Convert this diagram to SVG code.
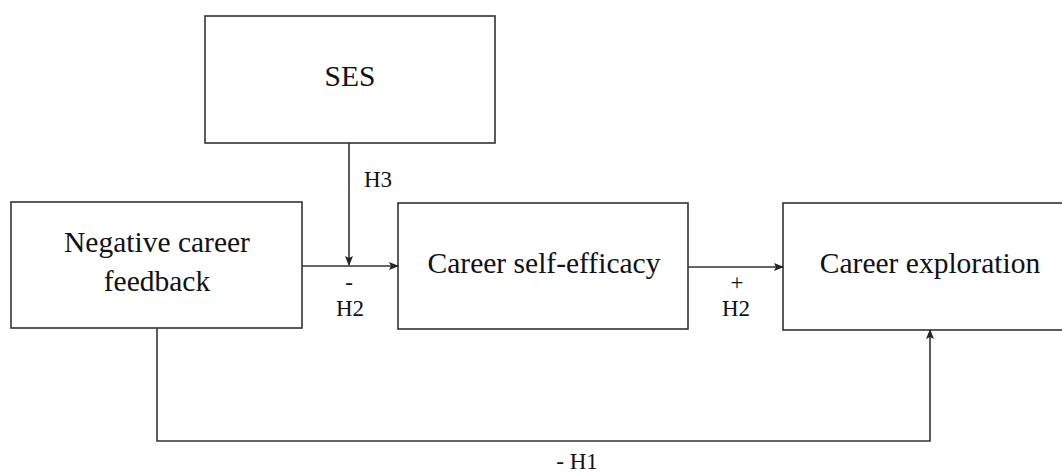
<svg xmlns="http://www.w3.org/2000/svg" width="1062" height="473" viewBox="0 0 1062 473">
<style>
.box{fill:#fff;stroke:#333;stroke-width:1.6}
.t{font-family:"Liberation Serif","Times New Roman",serif;font-size:29.5px;fill:#111;text-anchor:middle}
.l{font-family:"Liberation Serif","Times New Roman",serif;font-size:23px;fill:#111;text-anchor:middle}
.c{fill:none;stroke:#333;stroke-width:1.6}
</style>
<defs>
<marker id="ah" markerWidth="10" markerHeight="8" refX="9" refY="4" orient="auto" markerUnits="userSpaceOnUse">
<path d="M0,0 L10,4 L0,8 L2,4 Z" fill="#222"/>
</marker>
</defs>
<rect width="1062" height="473" fill="#fff"/>
<g id="ses"><rect class="box" x="205" y="16" width="290" height="127"/><text class="t" x="350" y="86">SES</text></g>
<g id="ncf"><rect class="box" x="11" y="202" width="291" height="126"/><text class="t" x="157" y="252">Negative career</text><text class="t" x="157" y="291">feedback</text></g>
<g id="cse"><rect class="box" x="398" y="203" width="290" height="126"/><text class="t" x="544" y="273">Career self-efficacy</text></g>
<g id="ce"><rect class="box" x="783" y="203" width="290" height="127"/><text class="t" x="930" y="273">Career exploration</text></g>
<g id="connectors">
<line class="c" x1="349" y1="143" x2="349" y2="265" marker-end="url(#ah)"/>
<line class="c" x1="302" y1="266" x2="398" y2="266" marker-end="url(#ah)"/>
<line class="c" x1="688" y1="267" x2="783" y2="267" marker-end="url(#ah)"/>
<polyline class="c" points="157,328 157,441 930,441 930,330" marker-end="url(#ah)"/>
<text class="l" x="378" y="187">H3</text>
<text class="l" x="349" y="290">-</text>
<text class="l" x="350" y="316">H2</text>
<text class="l" x="737" y="290">+</text>
<text class="l" x="736" y="316">H2</text>
<text class="l" x="577" y="469">- H1</text>
</g>
</svg>
